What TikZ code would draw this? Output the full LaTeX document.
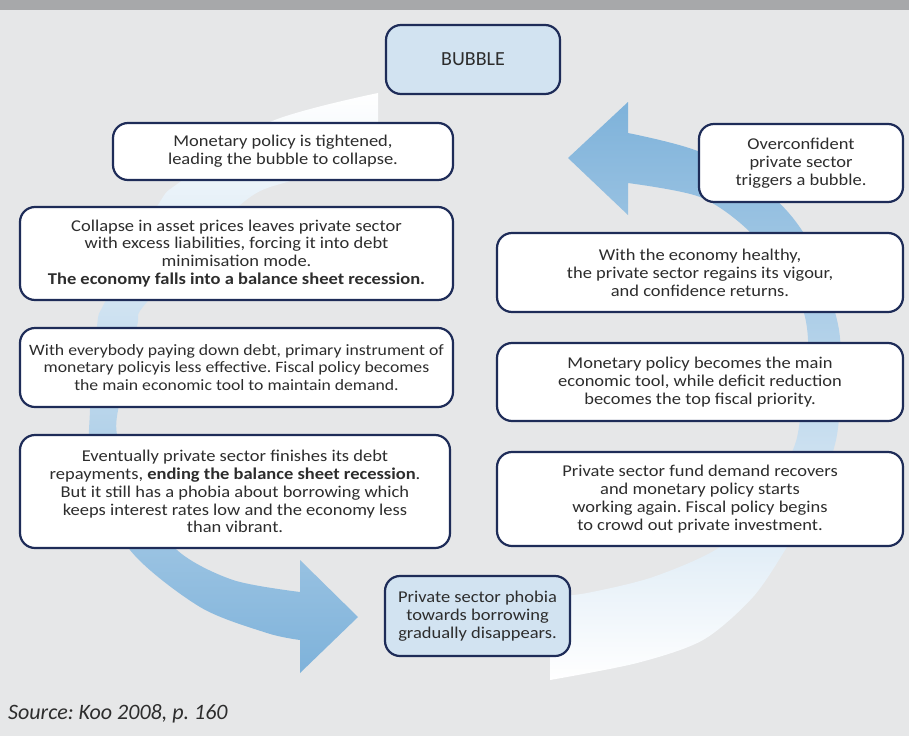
\documentclass[tikz,border=0pt]{standalone}
\usepackage{fontspec}
\setmainfont{Carlito}
\newfontfamily\boxfont[FakeStretch=1.12]{Carlito}
\usetikzlibrary{positioning}
\definecolor{bgcol}{RGB}{230,231,232}
\definecolor{barcol}{RGB}{167,168,170}
\definecolor{navy}{RGB}{30,44,88}
\definecolor{paleblue}{RGB}{210,227,241}
\definecolor{arrowblue}{RGB}{126,178,218}
\definecolor{txt}{RGB}{45,45,45}
\frenchspacing

\begin{document}
\begin{tikzpicture}
  [x=1pt,y=-1pt,
   stage/.style={draw=navy,fill=white,line width=2.2pt,rounded corners=15pt,
     align=center,inner sep=0pt,text=txt,font=\boxfont\fontsize{16.5}{17.9}\selectfont},
   keystage/.style={stage,fill=paleblue}]
  \useasboundingbox (0,0) rectangle (909,736);
  \fill[bgcol] (0,0) rectangle (909,736);
  \fill[barcol] (0,0) rectangle (909,10);

  % left arrow: bubble bursts, down to recovery
  \shade[top color=white,middle color=arrowblue!85!white,bottom color=arrowblue]
    plot[smooth] coordinates {(378,93) (270,122) (180,182) (158,205) (105,302) (97,326) (90,410) (92,470) (130,550) (200,607) (267,633) (300,640)}
    -- (300,673) -- (358,617) -- (300,560) --
    plot[smooth] coordinates {(300,592) (233,580) (177,550) (135,490) (117,435) (120,400) (137,326) (147,302) (240,205) (287,182) (378,163)}
    -- cycle;
  % right arrow: recovery, up to the next bubble
  \shade[top color=arrowblue,middle color=arrowblue!65!white,bottom color=white]
    plot[smooth] coordinates {(550,680) (637,663) (703,640) (753,597) (787,547) (815,500) (836,440) (841,380) (839,330) (825,280) (803,232) (770,195) (700,152) (628,133)}
    -- (628,102) -- (568,158) -- (628,215) --
    plot[smooth] coordinates {(628,183) (700,197) (750,232) (795,290) (808,340) (800,420) (792,452) (765,500) (720,547) (653,577) (587,593) (550,597)}
    -- cycle;

  \node[keystage,minimum width=174pt,minimum height=69pt,font=\fontsize{20}{24}\selectfont] (bubble) at (473,59.5) {BUBBLE};
  \node[stage,minimum width=340pt,minimum height=57pt] (tighten) at (283,151.5) {Monetary policy is tightened,\\ leading the bubble to collapse.};
  \node[stage,minimum width=433pt,minimum height=93pt] (collapse) at (236.5,253.5) {Collapse in asset prices leaves private sector\\ with excess liabilities, forcing it into debt\\ minimisation mode.\\ \textbf{The economy falls into a balance sheet recession.}};
  \node[stage,minimum width=433pt,minimum height=79pt,font=\boxfont\fontsize{15.8}{17.9}\selectfont] (fiscal) at (236.5,367.5) {With everybody paying down debt, primary instrument of\\ monetary policyis less effective. Fiscal policy becomes\\ the main economic tool to maintain demand.};
  \node[stage,minimum width=430pt,minimum height=113pt] (repaid) at (235,491.5) {Eventually private sector finishes its debt\\ repayments, \textbf{ending the balance sheet recession}.\\ But it still has a phobia about borrowing which\\ keeps interest rates low and the economy less\\ than vibrant.};
  \node[keystage,minimum width=185pt,minimum height=80pt] (phobia) at (477.5,616) {Private sector phobia\\ towards borrowing\\ gradually disappears.};
  \node[stage,minimum width=406pt,minimum height=94pt] (recover) at (700,499) {Private sector fund demand recovers\\ and monetary policy starts\\ working again. Fiscal policy begins\\ to crowd out private investment.};
  \node[stage,minimum width=406pt,minimum height=78pt] (monetary) at (700,382) {Monetary policy becomes the main\\ economic tool, while deficit reduction\\ becomes the top fiscal priority.};
  \node[stage,minimum width=406pt,minimum height=79pt] (healthy) at (700,272.5) {With the economy healthy,\\ the private sector regains its vigour,\\ and confidence returns.};
  \node[stage,minimum width=204pt,minimum height=78pt] (overconf) at (801,163) {Overconfident\\ private sector\\ triggers a bubble.};
  \node[anchor=base west,inner sep=0pt,text=txt,font=\itshape\fontsize{22}{26}\selectfont] (source) at (8,719) {Source: Koo 2008, p. 160};
\end{tikzpicture}
\end{document}
